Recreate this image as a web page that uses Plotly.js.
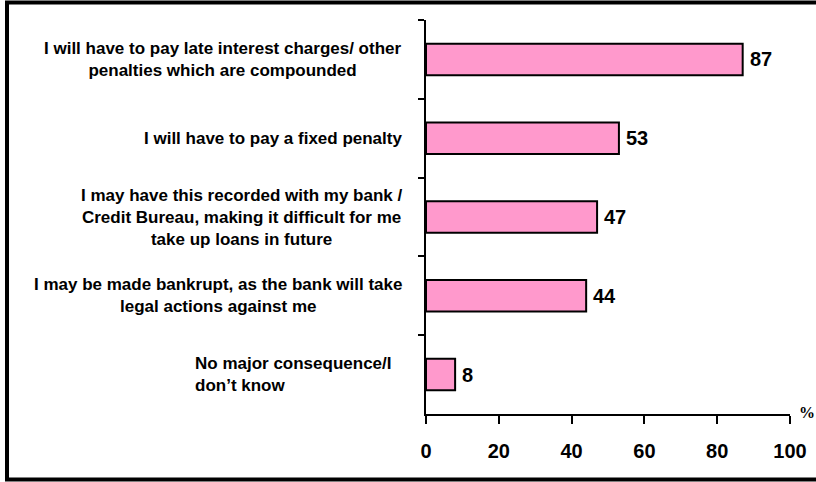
<!DOCTYPE html>
<html>
<head>
<meta charset="utf-8">
<script src="https://cdn.plot.ly/plotly-3.0.1.min.js"></script>
<style>
html,body{margin:0;padding:0;background:#fff;}
#chart{width:816px;height:482px;}
</style>
</head>
<body>
<div id="chart"></div>
<script>
// Data
const categories = [
  "I will have to pay late interest charges/ other<br>penalties which are compounded",
  "I will have to pay a fixed penalty",
  "I may have this recorded with my bank /<br>Credit Bureau, making it difficult for me<br>take up loans in future",
  "I may be made bankrupt, as the bank will take<br>legal actions against me",
  "No major consequence/I<br>don’t know"
];
const values = [87, 53, 47, 44, 8];
const tickValsX = [0, 20, 40, 60, 80, 100];
const unitLabel = "%";

// Layout constants
const L = 426, R = 790, T = 20, B = 414;
const PW = R - L, PH = B - T;
const px = x => (x - L) / PW;
const py = y => (B - y) / PH;

const catIds = categories.map((c, i) => "c" + i);

const trace = {
  type: "bar",
  orientation: "h",
  x: values,
  y: catIds,
  width: 0.4,
  marker: {color: "#FF99CC", line: {color: "#000", width: 2}},
  hoverinfo: "none"
};

const annotations = [];
categories.forEach((c, i) => {
  const leftAlign = i === categories.length - 1;
  annotations.push({
    xref: "paper", yref: "y",
    x: leftAlign ? px(394) : px(404), y: catIds[i],
    xanchor: "right", yanchor: "middle",
    align: leftAlign ? "left" : "center",
    text: c, showarrow: false,
    font: {family: "Liberation Sans, Arial, sans-serif", size: 17, color: "#000", weight: "bold"}
  });
  annotations.push({
    xref: "x", yref: "y",
    x: values[i], y: catIds[i],
    xanchor: "left", yanchor: "middle",
    xshift: 5,
    text: "<b>" + values[i] + "</b>", showarrow: false,
    font: {family: "Liberation Sans, Arial, sans-serif", size: 20, color: "#000"}
  });
});
annotations.push({
  xref: "paper", yref: "paper",
  x: px(797), y: py(412),
  xanchor: "left", yanchor: "middle",
  text: "<b>" + unitLabel + "</b>", showarrow: false,
  font: {family: "Liberation Serif, serif", size: 16, color: "#000"}
});

const layout = {
  width: 816, height: 482,
  margin: {l: L, r: 816 - R, t: T, b: 482 - B, pad: 0},
  paper_bgcolor: "#fff", plot_bgcolor: "#fff",
  showlegend: false,
  xaxis: {
    range: [0, 100],
    tickvals: tickValsX,
    ticktext: tickValsX.map(v => "<b>" + v + "</b>"),
    ticks: "outside", ticklen: 8, tickwidth: 2, tickcolor: "#000",
    showline: true, linecolor: "#000", linewidth: 2,
    showgrid: false, zeroline: false,
    ticklabelstandoff: 10,
    tickfont: {family: "Liberation Sans, Arial, sans-serif", size: 20, color: "#000"}
  },
  yaxis: {
    type: "category",
    categoryorder: "array", categoryarray: catIds,
    range: [4.5, -0.5],
    ticks: "outside", ticklen: 6, tickwidth: 2, tickcolor: "#000",
    tickson: "boundaries",
    showticklabels: false,
    showline: true, linecolor: "#000", linewidth: 2,
    showgrid: false, zeroline: false
  },
  annotations: annotations,
  shapes: [{
    type: "path", xref: "paper", yref: "paper",
    path: "M " + px(830) + "," + py(2.5) + " L " + px(7) + "," + py(2.5) +
          " L " + px(7) + "," + py(479.5) + " L " + px(830) + "," + py(479.5),
    line: {color: "#000", width: 4}
  }]
};

Plotly.newPlot("chart", [trace], layout, {staticPlot: true, displayModeBar: false});
</script>
</body>
</html>
